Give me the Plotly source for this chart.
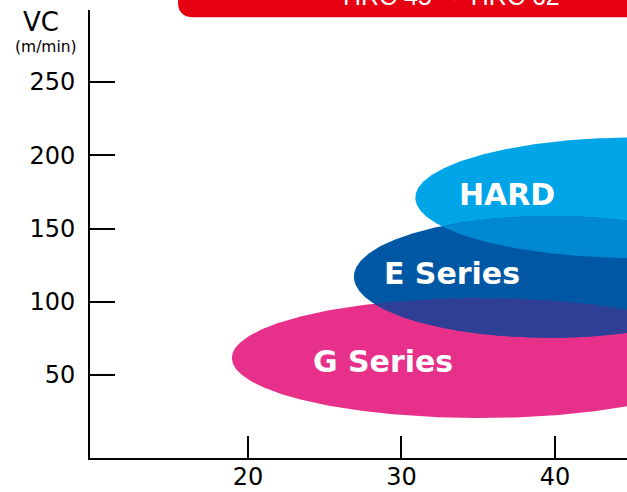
import numpy as np
import plotly.graph_objects as go

# ---- data ----
series = ["HARD", "E Series", "G Series"]
center_x = [45.5, 39.7, 35.1]       # x-axis units
center_y = [171.0, 117.0, 61.6]     # VC (m/min)
radius_x = [14.6, 12.8, 16.15]
radius_y = [41.3, 41.6, 41.0]
colors = ["#00A5E8", "#0057A3", "#E6308A"]
overlap_pairs = [("HARD", "E Series"), ("E Series", "G Series")]
overlap_colors = ["#0088D1", "#2F3F96"]
label_x = [36.88, 33.29, 28.8]
label_y = [171.5, 117.5, 57.2]
x_ticks = [20, 30, 40]
y_ticks = [50, 100, 150, 200, 250]
banner_text = "HRC 45 ～ HRC 62"

t = np.linspace(0, 2 * np.pi, 721)


def ellipse(i):
    return center_x[i] + radius_x[i] * np.cos(t), center_y[i] + radius_y[i] * np.sin(t)


def inside(x, y, i):
    return ((x - center_x[i]) / radius_x[i]) ** 2 + ((y - center_y[i]) / radius_y[i]) ** 2 <= 1.0


def intersection(i, j):
    xa, ya = ellipse(i)
    xb, yb = ellipse(j)
    ma = inside(xa, ya, j)
    mb = inside(xb, yb, i)
    px = np.concatenate([xa[ma], xb[mb]])
    py = np.concatenate([ya[ma], yb[mb]])
    cx, cy = px.mean(), py.mean()
    ang = np.arctan2((py - cy) / 40.0, (px - cx) / 10.0)
    o = np.argsort(ang)
    return np.append(px[o], px[o][0]), np.append(py[o], py[o][0])


fig = go.Figure()
for name in ["G Series", "HARD", "E Series"]:
    i = series.index(name)
    ex, ey = ellipse(i)
    fig.add_trace(go.Scatter(x=ex, y=ey, fill="toself", fillcolor=colors[i], mode="lines",
                             line=dict(width=0, color=colors[i]), hoverinfo="skip", showlegend=False))

for (a, b), c in zip(overlap_pairs, overlap_colors):
    ox, oy = intersection(series.index(a), series.index(b))
    fig.add_trace(go.Scatter(x=ox, y=oy, fill="toself", fillcolor=c, mode="lines",
                             line=dict(width=0, color=c), hoverinfo="skip", showlegend=False))

fig.add_trace(go.Scatter(x=label_x, y=label_y, mode="text", text=["<b>%s</b>" % s for s in series],
                         textfont=dict(family="DejaVu Sans", size=30, color="white"),
                         textposition="middle center", hoverinfo="skip", showlegend=False))

axis_font = dict(family="DejaVu Sans", size=24, color="black")
fig.update_layout(
    width=627, height=492,
    margin=dict(l=90, r=0, t=10, b=34),
    paper_bgcolor="white", plot_bgcolor="white",
    xaxis=dict(range=[9.71, 44.69], tickvals=x_ticks, ticks="inside", ticklen=22, tickwidth=2,
               tickcolor="black", showline=True, linecolor="black", linewidth=2, showgrid=False,
               zeroline=False, tickfont=axis_font, ticklabelstandoff=-4, automargin=False, fixedrange=True),
    yaxis=dict(range=[-6.66, 299.15], tickvals=y_ticks, ticks="inside", ticklen=25, tickwidth=2,
               tickcolor="black", showline=True, linecolor="black", linewidth=2, showgrid=False,
               zeroline=False, tickfont=axis_font, ticklabelstandoff=8, automargin=False, fixedrange=True),
    shapes=[dict(type="path", xref="paper", yref="paper", layer="above",
                 path="M 0.1639,1.08 L 0.1639,1.018 Q 0.1639,0.984 0.192,0.984 L 1.05,0.984 L 1.05,1.08 Z",
                 fillcolor="#E60012", line=dict(width=0))],
    annotations=[
        dict(text="VC", xref="paper", yref="paper", x=-0.0912, y=0.973, xanchor="center", yanchor="middle",
             showarrow=False, font=dict(family="DejaVu Sans", size=26, color="black")),
        dict(text="(m/min)", xref="paper", yref="paper", x=-0.082, y=0.917, xanchor="center", yanchor="middle",
             showarrow=False, font=dict(family="DejaVu Sans", size=15.5, color="black")),
        dict(text=banner_text, xref="paper", yref="paper", x=0.674, y=0.998, xanchor="center", yanchor="bottom",
             borderpad=0, showarrow=False, font=dict(family="Liberation Sans", size=25, color="white")),
    ],
)
fig.write_html("out.html", config={"displayModeBar": False},
               post_script="document.body.style.margin='0';document.body.style.overflow='hidden';")
